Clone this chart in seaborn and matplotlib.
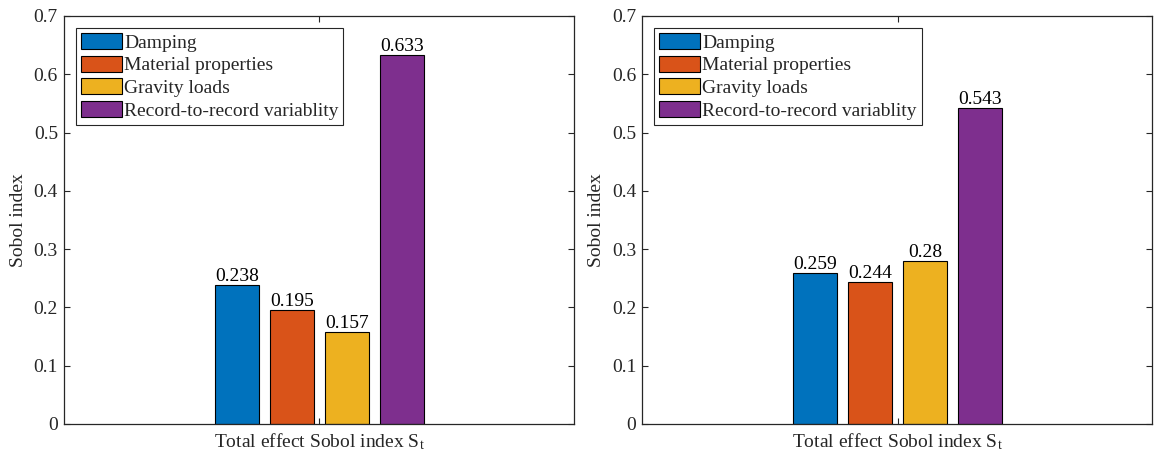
import matplotlib
matplotlib.use("Agg")
import matplotlib.pyplot as plt
import seaborn as sns
import pandas as pd

# Sobol total-effect indices for the two cases
sources = ["Damping", "Material properties", "Gravity loads", "Record-to-record variablity"]
left_values = [0.238, 0.195, 0.157, 0.633]
right_values = [0.259, 0.244, 0.28, 0.543]
category = "Total effect Sobol index S$_\\mathregular{t}$"
colors = ["#0072BD", "#D95319", "#EDB120", "#7E2F8E"]
yticks = [0, 0.1, 0.2, 0.3, 0.4, 0.5, 0.6, 0.7]

sns.set_theme(style="white")
plt.rcParams["font.family"] = ["Liberation Serif", "DejaVu Serif"]
plt.rcParams["mathtext.fontset"] = "stix"
ink = "#262626"
fs = 14

W, H = 1155, 457
fig = plt.figure(figsize=(W / 100, H / 100), dpi=100)
fig.patch.set_facecolor("white")

panels = [(63.5, 574.0, left_values), (641.7, 1152.0, right_values)]
top_px, bot_px = 16.0, 424.0

for x0, x1, vals in panels:
    ax = fig.add_axes([x0 / W, (H - bot_px) / H, (x1 - x0) / W, (bot_px - top_px) / H])
    df = pd.DataFrame({"cat": [category] * len(sources), "source": sources, "value": vals})
    sns.barplot(data=df, x="cat", y="value", hue="source", hue_order=sources,
                palette=colors, width=0.8, gap=0.2, saturation=1,
                edgecolor="black", linewidth=0.8, ax=ax, errorbar=None)
    for cont in ax.containers:
        ax.bar_label(cont, labels=[f"{v:g}" for v in cont.datavalues],
                     padding=0, fontsize=fs, color="black")
    ax.set_xlim(-0.931, 0.926)
    ax.set_ylim(0, 0.7)
    ax.set_yticks(yticks)
    ax.set_yticklabels([f"{t:g}" for t in yticks])
    ax.set_xlabel("")
    ax.set_ylabel("Sobol index", fontsize=fs, color=ink, labelpad=5)
    for s in ax.spines.values():
        s.set_visible(True)
        s.set_color(ink)
        s.set_linewidth(0.9)
    ax.tick_params(axis="both", direction="in", length=4, width=0.8, color=ink,
                   labelsize=fs, labelcolor=ink, top=True, right=True,
                   bottom=True, left=True)
    ax.tick_params(axis="x", pad=5)
    ax.tick_params(axis="y", pad=4)
    leg = ax.legend(loc="upper left", bbox_to_anchor=(12.5 / (x1 - x0), 1 - 12 / (bot_px - top_px)),
                    borderaxespad=0, fontsize=fs, frameon=True, fancybox=False,
                    framealpha=1, edgecolor=ink, handlelength=2.1, handleheight=0.9,
                    handletextpad=0.12, labelspacing=0.2, borderpad=0.25, title=None)
    leg.get_frame().set_linewidth(0.8)

fig.savefig("out.png", dpi=100, facecolor="white")
